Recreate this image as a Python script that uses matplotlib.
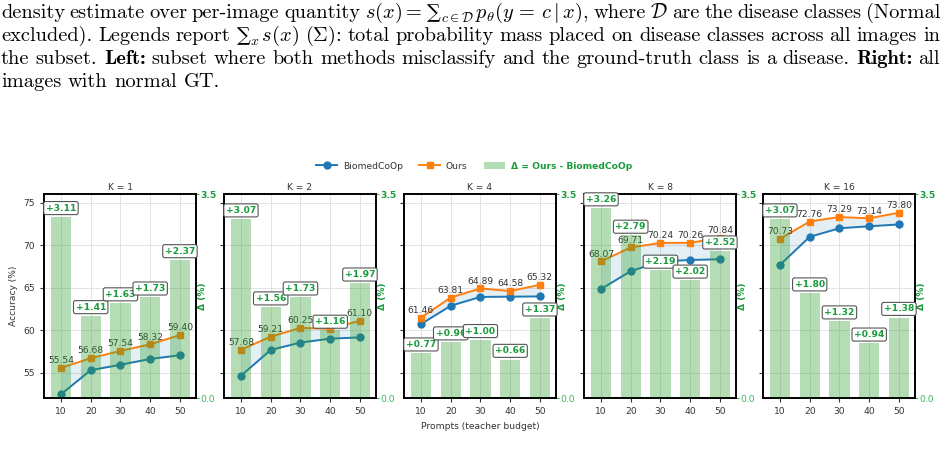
import matplotlib
matplotlib.use('Agg')
import matplotlib.pyplot as plt
from matplotlib.lines import Line2D
from matplotlib.patches import Patch

# ---------------- data ----------------
prompts = [10, 20, 30, 40, 50]
k_titles = ['K = 1', 'K = 2', 'K = 4', 'K = 8', 'K = 16']
ours = [
    [55.54, 56.68, 57.54, 58.32, 59.40],
    [57.68, 59.21, 60.25, 60.14, 61.10],
    [61.46, 63.81, 64.89, 64.58, 65.32],
    [68.07, 69.71, 70.24, 70.26, 70.84],
    [70.73, 72.76, 73.29, 73.14, 73.80],
]
biomed = [
    [52.43, 55.27, 55.91, 56.59, 57.03],
    [54.61, 57.65, 58.52, 58.98, 59.13],
    [60.69, 62.85, 63.89, 63.92, 63.95],
    [64.81, 66.92, 68.05, 68.24, 68.32],
    [67.66, 70.96, 71.97, 72.20, 72.42],
]
delta = [
    [3.11, 1.41, 1.63, 1.73, 2.37],
    [3.07, 1.56, 1.73, 1.16, 1.97],
    [0.77, 0.96, 1.00, 0.66, 1.37],
    [3.26, 2.79, 2.19, 2.02, 2.52],
    [3.07, 1.80, 1.32, 0.94, 1.38],
]
# caption: a word is a string, or a list of pieces (text, kind) glued together
# kind: 'r' roman, 'b' bold, 'S' sum sign, 'Sp' sum sign after '=', 's' subscript
caption_lines = [
    ["density", "estimate", "over", "per-image", "quantity",
     [(r"$s(x) =$", 'r'), ("∑", 'Sp'), (r"$c\in\mathcal{D}$", 's'),
      (r"$\,p_\theta(y\,=\,c \mid x)$,", 'r')],
     "where", r"$\mathcal{D}$", "are", "the", "disease", "classes", "(Normal"],
    ["excluded).", "Legends", "report",
     [("∑", 'S'), (r"$x$", 's'), (r"$\,s(x)$", 'r')], r"$(\Sigma)$:",
     "total", "probability", "mass", "placed", "on", "disease", "classes",
     "across", "all", "images", "in"],
    ["the", "subset.", [("Left:", 'b')], "subset", "where", "both", "methods",
     "misclassify", "and", "the", "ground-truth", "class", "is", "a",
     "disease.", [("Right:", 'b')], "all"],
    ["images", "with", "normal", "GT."],
]

# ---------------- style ----------------
plt.rcParams['mathtext.fontset'] = 'cm'
BLUE = '#1f77b4'
ORANGE = '#ff7f0e'
BARC = '#2ca02c'
GREEN_TXT = '#1a9a3c'
GREEN_LIGHT = '#3cb55a'
TXT = '#333333'
FS = 6.6

W, H = 948, 461
fig = plt.figure(figsize=(W / 100, H / 100), dpi=100)
renderer = fig.canvas.get_renderer()

# ---------------- caption (justified) ----------------
cap_base = [18, 41, 64, 87]
cap_fs = 14.7
x0, x1 = 1, 940
styles = {
    'r': dict(family='cmr10', fontsize=cap_fs, dy=0, pad=0),
    'b': dict(family='cmb10', fontsize=cap_fs, dy=0, pad=0),
    'S': dict(family='DejaVu Serif', fontsize=cap_fs * 0.95, dy=0, pad=0),
    'Sp': dict(family='DejaVu Serif', fontsize=cap_fs * 0.95, dy=0, pad=5),
    's': dict(family='cmr10', fontsize=cap_fs * 0.68, dy=4, pad=0),
}


def width_of(t):
    return t.get_window_extent(renderer).width


tmp1 = fig.text(0, 0, 'a b', family='cmr10', fontsize=cap_fs)
tmp2 = fig.text(0, 0, 'ab', family='cmr10', fontsize=cap_fs)
space_w = width_of(tmp1) - width_of(tmp2)
tmp1.remove()
tmp2.remove()

for li, (words, yb) in enumerate(zip(caption_lines, cap_base)):
    groups = []
    for w in words:
        pieces = w if isinstance(w, list) else [(w, 'r')]
        grp = []
        for txt, kind in pieces:
            st = styles[kind]
            t = fig.text(0, 1 - (yb + st['dy']) / H, txt, family=st['family'],
                         fontsize=st['fontsize'], va='baseline', ha='left',
                         color='black')
            grp.append((t, width_of(t), st['pad']))
        groups.append(grp)
    gw = [sum(wd + pd for _, wd, pd in g) for g in groups]
    if li < 3:
        gap = (x1 - x0 - sum(gw)) / (len(groups) - 1)
    else:
        gap = space_w
    x = x0
    for g, total in zip(groups, gw):
        xx = x
        for t, wd, pd in g:
            xx += pd
            t.set_x(xx / W)
            xx += wd
        x += total + gap

# ---------------- panels ----------------
lefts = [44, 224, 404, 584, 763]
ax_w, ax_top, ax_bot = 152, 194, 398

for i, (k, o, b, d) in enumerate(zip(k_titles, ours, biomed, delta)):
    ax = fig.add_axes([lefts[i] / W, 1 - ax_bot / H, ax_w / W, (ax_bot - ax_top) / H])
    ax.set_xlim(4.3, 55.4)
    ax.set_ylim(52, 76)
    ax.set_yticks([55, 60, 65, 70, 75])
    ax.set_xticks(prompts)
    ax.grid(True, color='#e3e3e3', lw=0.7)
    ax.set_axisbelow(True)
    ax.fill_between(prompts, b, o, color=BLUE, alpha=0.12, lw=0)
    ax.plot(prompts, b, '-o', color=BLUE, lw=1.4, ms=5)
    ax.plot(prompts, o, '-s', color=ORANGE, lw=1.4, ms=5)
    for x, v in zip(prompts, o):
        ax.annotate(f'{v:.2f}', (x, v), xytext=(0, 2), textcoords='offset points',
                    ha='center', va='bottom', fontsize=FS, color=TXT)
    ax.set_title(k, fontsize=FS, pad=3, color=TXT)
    ax.tick_params(labelsize=FS, length=3, colors=TXT)
    if i == 0:
        ax.set_ylabel('Accuracy (%)', fontsize=FS, color=TXT)
    else:
        ax.tick_params(labelleft=False)
    if i == 2:
        ax.set_xlabel('Prompts (teacher budget)', fontsize=FS, color=TXT, labelpad=4)

    ax2 = ax.twinx()
    ax2.set_ylim(0, 3.5)
    ax2.set_yticks([0, 3.5])
    ax2.set_yticklabels(['0.0', '3.5'])
    ax2.tick_params(labelsize=FS, length=2, colors=GREEN_LIGHT, pad=1)
    tl = ax2.get_yticklabels()
    tl[1].set_fontweight('bold')
    tl[1].set_color(GREEN_TXT)
    ax2.bar(prompts, d, width=6.8, color=BARC, alpha=0.35, lw=0)
    for x, v in zip(prompts, d):
        ax2.annotate(f'+{v:.2f}', (x, v), xytext=(0, 3), textcoords='offset points',
                     ha='center', va='bottom', fontsize=FS, fontweight='bold',
                     color=GREEN_TXT,
                     bbox=dict(boxstyle='round,pad=0.22', fc='white', ec='#555555', lw=0.8))
    ax2.set_ylabel('Δ (%)', fontsize=FS, fontweight='bold', color=GREEN_TXT)
    ax2.yaxis.set_label_coords(1.015, 0.5)
    for a in (ax, ax2):
        for s in a.spines.values():
            s.set_color('black')
            s.set_linewidth(1.2)

handles = [
    Line2D([0], [0], color=BLUE, marker='o', lw=1.4, ms=5),
    Line2D([0], [0], color=ORANGE, marker='s', lw=1.4, ms=5),
    Patch(facecolor=BARC, alpha=0.35, lw=0),
]
leg = fig.legend(handles, ['BiomedCoOp', 'Ours', 'Δ = Ours - BiomedCoOp'],
                 loc='center', bbox_to_anchor=(0.5, 1 - 166 / H), ncol=3,
                 frameon=False, fontsize=6.6, columnspacing=1.8, handlelength=2.3,
                 handletextpad=0.6)
for t in leg.get_texts()[:2]:
    t.set_color(TXT)
leg.get_texts()[2].set_color(GREEN_TXT)
leg.get_texts()[2].set_fontweight('bold')

fig.savefig('out.png', dpi=100)
